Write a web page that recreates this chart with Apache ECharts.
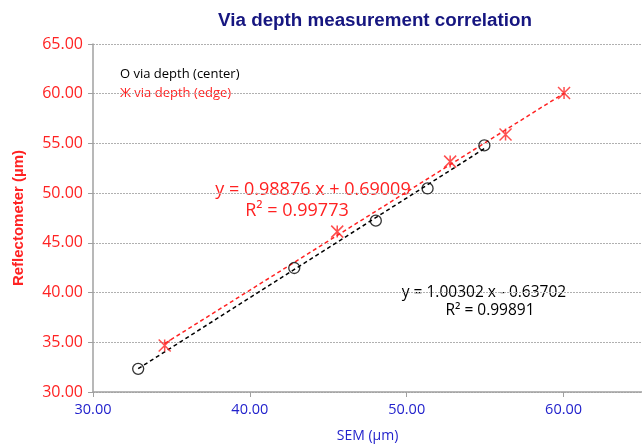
<!DOCTYPE html>
<html><head><meta charset="utf-8">
<script src="https://cdn.jsdelivr.net/npm/echarts@6/dist/echarts.min.js"></script>
<style>html,body{margin:0;padding:0;background:#fff}#c{width:642px;height:448px}</style>
</head><body><div id="c"></div>
<script>
// Data
const centerSEM = [32.88, 42.83, 48.03, 51.33, 54.95];
const centerRefl = [32.33, 42.47, 47.23, 50.47, 54.80];
const edgeSEM = [34.57, 45.57, 52.77, 56.30, 60.03];
const edgeRefl = [34.67, 46.13, 53.17, 55.90, 60.07];
// Trendline coefficients (as printed)
const centerFit = {slope: 1.00302, intercept: -0.63702, r2: 0.99891};
const edgeFit = {slope: 0.98876, intercept: 0.69009, r2: 0.99773};

const RED = '#ff2222', BLUE = '#2222cc', NAVY = '#161680';
const pts = (xs, ys) => xs.map((x, i) => [x, ys[i]]);
const fitLine = (xs, f) => {
  const a = Math.min(...xs), b = Math.max(...xs);
  return [[a, f.slope * a + f.intercept], [b, f.slope * b + f.intercept]];
};
const fmtEq = f => 'y = ' + f.slope.toFixed(5) + ' x ' + (f.intercept < 0 ? '- ' : '+ ') + Math.abs(f.intercept).toFixed(5);
const asterisk = 'path://M0,0L10,10M10,0L0,10M5,0L5,10';

const chart = echarts.init(document.getElementById('c'), null, {renderer: 'canvas'});
chart.setOption({
  animation: false,
  title: {text: 'Via depth measurement correlation', left: 370, textAlign: 'center', top: 6,
    textStyle: {fontFamily: 'Liberation Sans', fontWeight: 'bold', fontSize: 18.8, color: NAVY}},
  grid: {left: 93, right: 0, top: 44, bottom: 54, containLabel: false},
  xAxis: {type: 'value', min: 30, max: 65, interval: 10,
    name: 'SEM (µm)', nameLocation: 'middle', nameGap: 37,
    nameTextStyle: {fontFamily: 'Open Sans', fontSize: 14, color: BLUE},
    axisLine: {lineStyle: {color: '#a0a0a0', width: 1.5}},
    axisTick: {show: true, length: 5, lineStyle: {color: '#a0a0a0'}},
    axisLabel: {showMaxLabel: false, margin: 10, fontFamily: 'Open Sans', fontSize: 14.5, color: BLUE,
      formatter: v => v.toFixed(2)},
    splitLine: {show: false}},
  yAxis: {type: 'value', min: 30, max: 65, interval: 5,
    name: 'Reflectometer (µm)', nameLocation: 'middle', nameGap: 67, nameRotate: 90,
    nameTextStyle: {fontFamily: 'Liberation Sans', fontWeight: 'bold', fontSize: 15, color: RED},
    axisLine: {show: true, lineStyle: {color: '#a0a0a0', width: 1.5}},
    axisTick: {show: true, length: 5, lineStyle: {color: '#a0a0a0'}},
    axisLabel: {margin: 10, fontFamily: 'Open Sans', fontSize: 16, color: RED, formatter: v => v.toFixed(2)},
    splitLine: {show: true, lineStyle: {color: '#b0b0b0', type: [2, 1], width: 1}}},
  graphic: [
    {type: 'text', left: 120, top: 68, style: {text: 'O via depth (center)', fill: '#000', font: '13px "Open Sans"'}},
    {type: 'text', left: 120, top: 87, style: {text: 'Ж via depth (edge)', fill: RED, font: '13px "Open Sans"'}},
    {type: 'text', x: 313, y: 190, style: {text: fmtEq(edgeFit), fill: RED, font: '18px "Open Sans"', align: 'center', verticalAlign: 'middle'}},
    {type: 'text', x: 297, y: 211, style: {text: 'R² = ' + edgeFit.r2.toFixed(5), fill: RED, font: '18px "Open Sans"', align: 'center', verticalAlign: 'middle'}},
    {type: 'text', x: 484, y: 293, style: {text: fmtEq(centerFit), fill: '#000', font: '15.5px "Open Sans"', align: 'center', verticalAlign: 'middle'}},
    {type: 'text', x: 490, y: 311, style: {text: 'R² = ' + centerFit.r2.toFixed(5), fill: '#000', font: '15.5px "Open Sans"', align: 'center', verticalAlign: 'middle'}}
  ],
  series: [
    {type: 'line', data: fitLine(centerSEM, centerFit), symbol: 'none', z: 2,
      lineStyle: {color: '#000', width: 1.5, type: [4, 3]}},
    {type: 'line', data: fitLine(edgeSEM, edgeFit), symbol: 'none', z: 2,
      lineStyle: {color: RED, width: 1.5, type: [4, 3]}},
    {type: 'scatter', data: pts(centerSEM, centerRefl), symbol: 'circle', symbolSize: 11, z: 3,
      itemStyle: {color: 'rgba(0,0,0,0)', borderColor: '#000', borderWidth: 1.3}},
    {type: 'scatter', data: pts(edgeSEM, edgeRefl), symbol: asterisk, symbolSize: 12, z: 3,
      itemStyle: {color: 'rgba(0,0,0,0)', borderColor: RED, borderWidth: 1.5}}
  ]
});
</script></body></html>
